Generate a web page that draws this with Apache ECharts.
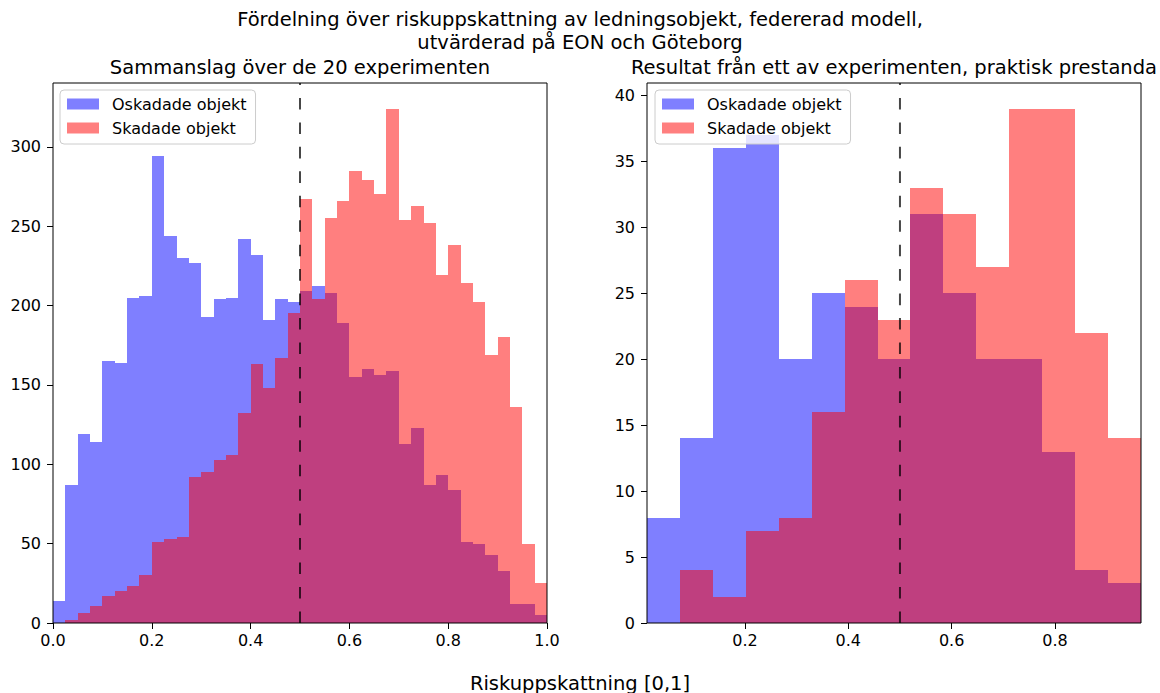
<!DOCTYPE html>
<html>
<head>
<meta charset="utf-8">
<script src="https://cdn.jsdelivr.net/npm/echarts@6/dist/echarts.min.js"></script>
<style>
  html, body { margin: 0; padding: 0; background: #ffffff; }
  #chart { width: 1160px; height: 693px; }
</style>
</head>
<body>
<div id="chart"></div>
<script>
// Histogram counts per bin for undamaged / damaged objects
const seriesNames = ['Oskadade objekt', 'Skadade objekt'];

// Pooled over the 20 experiments: 40 bins on [0, 1]
const pooledEdges = [0, 0.025, 0.05, 0.075, 0.1, 0.125, 0.15, 0.175, 0.2, 0.225,
  0.25, 0.275, 0.3, 0.325, 0.35, 0.375, 0.4, 0.425, 0.45, 0.475,
  0.5, 0.525, 0.55, 0.575, 0.6, 0.625, 0.65, 0.675, 0.7, 0.725,
  0.75, 0.775, 0.8, 0.825, 0.85, 0.875, 0.9, 0.925, 0.95, 0.975, 1.0];
const pooledUndamaged = [14, 87, 119, 114, 165, 164, 205, 206, 294, 244,
  230, 227, 193, 204, 205, 242, 232, 191, 204, 202,
  209, 212, 208, 189, 155, 160, 156, 159, 113, 123,
  87, 93, 84, 51, 50, 43, 33, 12, 12, 5];
const pooledDamaged = [0, 2, 6, 11, 17, 20, 23, 30, 51, 53,
  54, 92, 95, 103, 106, 132, 163, 148, 167, 195,
  267, 204, 255, 266, 285, 279, 270, 324, 254, 263,
  252, 219, 238, 214, 202, 169, 180, 136, 50, 25];

// Single experiment: 15 bins
const singleEdges = [0.0103, 0.0741, 0.1378, 0.2016, 0.2653, 0.3291, 0.3928, 0.4566,
  0.5203, 0.5841, 0.6478, 0.7116, 0.7753, 0.8391, 0.9028, 0.9666];
const singleUndamaged = [8, 14, 36, 37, 20, 25, 24, 20, 31, 25, 20, 20, 13, 4, 3];
const singleDamaged = [0, 4, 2, 7, 8, 16, 26, 23, 33, 31, 27, 39, 39, 22, 14];

// Decision threshold
const threshold = 0.5;

// Tick values
const pooledXTicks = [0, 0.2, 0.4, 0.6, 0.8, 1.0];
const pooledYTicks = [0, 50, 100, 150, 200, 250, 300];
const singleXTicks = [0.2, 0.4, 0.6, 0.8];
const singleYTicks = [0, 5, 10, 15, 20, 25, 30, 35, 40];

const FONT = 'DejaVu Sans';
const BLUE = 'rgba(0, 0, 255, 0.5)';
const RED = 'rgba(255, 0, 0, 0.5)';

function toBins(edges, counts) {
  return counts.map((c, i) => [edges[i], edges[i + 1], c]);
}

// Bars snapped to whole pixels so neighbouring bins meet without seams
function renderBin(params, api) {
  const x0 = api.value(0), x1 = api.value(1), c = api.value(2);
  const topLeft = api.coord([x0, c]);
  const bottomRight = api.coord([x1, 0]);
  const left = Math.round(topLeft[0]);
  const right = Math.round(bottomRight[0]);
  const top = Math.round(topLeft[1]);
  const bottom = Math.round(bottomRight[1]);
  return {
    type: 'rect',
    shape: { x: left, y: top, width: right - left, height: bottom - top },
    style: { fill: api.visual('color') }
  };
}

function histSeries(name, color, idx, edges, counts) {
  return {
    type: 'custom',
    name: name,
    xAxisIndex: idx,
    yAxisIndex: idx,
    renderItem: renderBin,
    encode: { x: [0, 1], y: 2 },
    itemStyle: { color: color },
    data: toBins(edges, counts),
    silent: true
  };
}

const pooledYMax = Math.max(...pooledUndamaged, ...pooledDamaged) * 1.05;
const singleYMax = Math.max(...singleUndamaged, ...singleDamaged) * 1.05;

function thresholdSeries(idx, yMax) {
  return {
    type: 'line',
    name: 'threshold',
    xAxisIndex: idx,
    yAxisIndex: idx,
    data: [[threshold, 0], [threshold, yMax]],
    symbol: 'none',
    silent: true,
    z: 5,
    lineStyle: { color: 'rgba(0, 0, 0, 0.72)', width: 2, type: [11.6, 12.85] }
  };
}

function xAxis(idx, min, max, ticks) {
  return {
    type: 'value', gridIndex: idx, min: min, max: max,
    axisLine: { show: false },
    splitLine: { show: false },
    axisTick: { show: true, length: 6, lineStyle: { color: '#000', width: 1 }, customValues: ticks },
    axisLabel: {
      customValues: ticks, margin: 9, color: '#000', fontSize: 16, fontFamily: FONT,
      formatter: v => v.toFixed(1)
    }
  };
}

function yAxis(idx, max, ticks) {
  return {
    type: 'value', gridIndex: idx, min: 0, max: max,
    axisLine: { show: false },
    splitLine: { show: false },
    axisTick: { show: true, length: 6, lineStyle: { color: '#000', width: 1 }, customValues: ticks },
    axisLabel: { customValues: ticks, margin: 12, color: '#000', fontSize: 16, fontFamily: FONT }
  };
}

function legend(left) {
  return {
    left: left, top: 90, orient: 'vertical',
    data: seriesNames,
    icon: 'rect', itemWidth: 32, itemHeight: 11, itemGap: 6,
    padding: [5, 9, 7, 7],
    backgroundColor: 'rgba(255,255,255,0.8)',
    borderColor: '#cccccc', borderWidth: 1, borderRadius: 4,
    selectedMode: false,
    textStyle: { fontSize: 16, fontFamily: FONT, color: '#000', lineHeight: 18, padding: [0, 0, 0, 8] }
  };
}

function label(text, x, y) {
  return {
    type: 'text', x: x, y: y,
    style: {
      text: text, fill: '#000', font: '19.5px "' + FONT + '"',
      align: 'center', verticalAlign: 'middle'
    }
  };
}

const chart = echarts.init(document.getElementById('chart'), null, { renderer: 'svg' });

chart.setOption({
  animation: false,
  backgroundColor: '#ffffff',
  grid: [
    { left: 53, top: 83, width: 494, height: 540, show: true, borderColor: '#000', borderWidth: 1, z: 10 },
    { left: 647, top: 83, width: 494, height: 540, show: true, borderColor: '#000', borderWidth: 1, z: 10 }
  ],
  xAxis: [
    xAxis(0, 0, 1, pooledXTicks),
    xAxis(1, singleEdges[0], singleEdges[singleEdges.length - 1], singleXTicks)
  ],
  yAxis: [
    yAxis(0, pooledYMax, pooledYTicks),
    yAxis(1, singleYMax, singleYTicks)
  ],
  legend: [legend(60), legend(655)],
  graphic: [
    label('Fördelning över riskuppskattning av ledningsobjekt, federerad modell,', 580, 19),
    label('utvärderad på EON och Göteborg', 580, 42),
    label('Sammanslag över de 20 experimenten', 300, 67),
    label('Resultat från ett av experimenten, praktisk prestanda', 894, 67),
    label('Riskuppskattning [0,1]', 580, 683)
  ],
  series: [
    histSeries(seriesNames[0], BLUE, 0, pooledEdges, pooledUndamaged),
    histSeries(seriesNames[1], RED, 0, pooledEdges, pooledDamaged),
    thresholdSeries(0, pooledYMax),
    histSeries(seriesNames[0], BLUE, 1, singleEdges, singleUndamaged),
    histSeries(seriesNames[1], RED, 1, singleEdges, singleDamaged),
    thresholdSeries(1, singleYMax)
  ]
});
</script>
</body>
</html>
